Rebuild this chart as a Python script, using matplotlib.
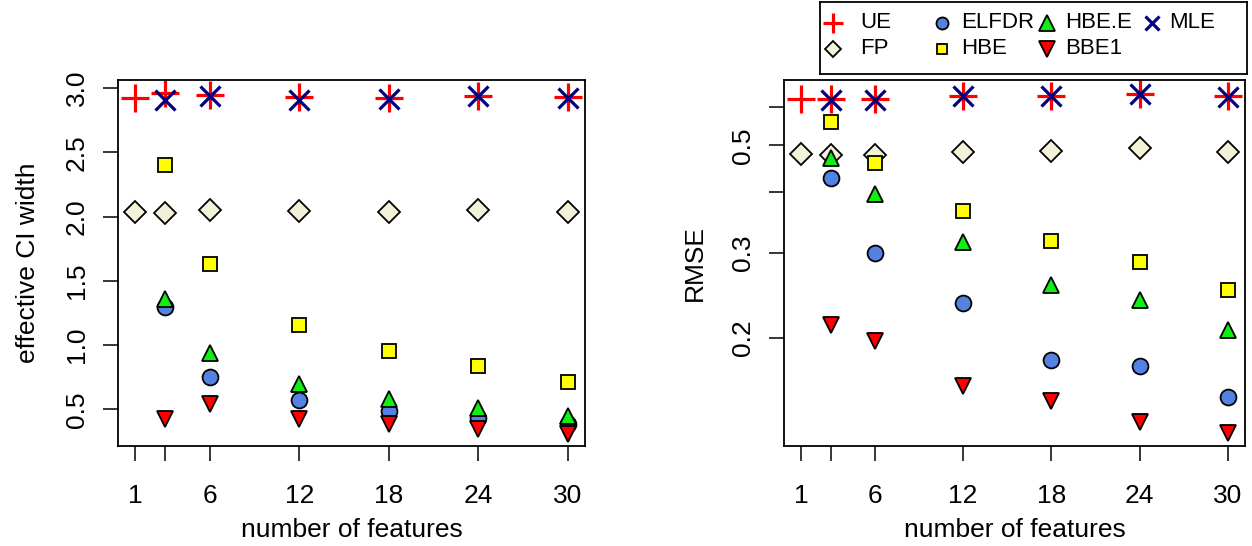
import matplotlib
matplotlib.use("Agg")
import matplotlib.pyplot as plt

plt.rcParams["font.family"] = ["Liberation Sans", "DejaVu Sans"]

# number of features
features = [1, 3, 6, 12, 18, 24, 30]
features_sub = [3, 6, 12, 18, 24, 30]

# effective CI width (left panel)
ue_ci = [2.92, 2.96, 2.947, 2.93, 2.92, 2.943, 2.93]
fp_ci = [2.036, 2.025, 2.051, 2.044, 2.038, 2.049, 2.036]
elfdr_ci = [1.293, 0.752, 0.575, 0.484, 0.435, 0.388]
hbe_ci = [2.40, 1.63, 1.155, 0.955, 0.835, 0.716]
hbee_ci = [1.36, 0.94, 0.70, 0.578, 0.513, 0.45]
bbe1_ci = [0.427, 0.544, 0.427, 0.383, 0.35, 0.31]
mle_ci = [2.908, 2.94, 2.91, 2.914, 2.94, 2.927]

# RMSE (right panel, log scale)
ue_rmse = [0.625, 0.625, 0.625, 0.633, 0.633, 0.640, 0.633]
fp_rmse = [0.479, 0.477, 0.477, 0.485, 0.487, 0.493, 0.485]
elfdr_rmse = [0.428, 0.300, 0.236, 0.180, 0.175, 0.151]
hbe_rmse = [0.560, 0.460, 0.366, 0.317, 0.287, 0.251]
hbee_rmse = [0.472, 0.396, 0.316, 0.257, 0.239, 0.207]
bbe1_rmse = [0.212, 0.197, 0.159, 0.148, 0.134, 0.127]
mle_rmse = [0.622, 0.622, 0.633, 0.633, 0.640, 0.630]

x_ticks = [1, 3, 6, 12, 18, 24, 30]
x_ticklabels = ["1", "", "6", "12", "18", "24", "30"]
ci_ticks = [0.5, 1.0, 1.5, 2.0, 2.5, 3.0]
rmse_ticks = [0.2, 0.3, 0.4, 0.5, 0.6]
rmse_ticklabels = ["0.2", "0.3", "", "0.5", ""]

labels = ["UE", "FP", "ELFDR", "HBE", "HBE.E", "BBE1", "MLE"]

# marker styles in plot order
styles = {
    "UE": dict(marker="+", color="#FF0000", ms=19.5, mew=2.3),
    "FP": dict(marker="D", mfc="#F2F2D8", mec="black", ms=11.3, mew=1.3),
    "ELFDR": dict(marker="o", mfc="#5482E2", mec="black", ms=11.4, mew=1.3),
    "HBE": dict(marker="s", mfc="#FFFF00", mec="black", ms=9.8, mew=1.3),
    "HBE.E": dict(marker="^", mfc="#11EE11", mec="black", ms=11.8, mew=1.3),
    "BBE1": dict(marker="v", mfc="#FF0000", mec="black", ms=11.8, mew=1.3),
    "MLE": dict(marker="x", color="#000080", ms=14, mew=2.3),
}

FS = 19

W, H = 1252, 546
fig = plt.figure(figsize=(W / 100, H / 100), dpi=100)


def px_axes(x0, y0, x1, y1):
    return fig.add_axes([x0 / W, 1 - y1 / H, (x1 - x0) / W, (y1 - y0) / H])


ax1 = px_axes(118, 80, 585, 446)
ax2 = px_axes(784, 80, 1245, 446)

left_data = [(features, ue_ci), (features, fp_ci), (features_sub, elfdr_ci),
             (features_sub, hbe_ci), (features_sub, hbee_ci),
             (features_sub, bbe1_ci), (features_sub, mle_ci)]
right_data = [(features, ue_rmse), (features, fp_rmse), (features_sub, elfdr_rmse),
              (features_sub, hbe_rmse), (features_sub, hbee_rmse),
              (features_sub, bbe1_rmse), (features_sub, mle_rmse)]

for ax, data in [(ax1, left_data), (ax2, right_data)]:
    for name, (xs, ys) in zip(labels, data):
        ax.plot(xs, ys, linestyle="none", **styles[name])

for ax in (ax1, ax2):
    ax.set_xlim(-0.16, 31.16)
    ax.set_xticks(x_ticks)
    ax.set_xticklabels(x_ticklabels)
    ax.tick_params(axis="both", direction="out", length=11, width=1.1,
                   labelsize=FS, color="black")
    ax.tick_params(axis="x", pad=16.5)
    ax.tick_params(axis="y", pad=10)
    for sp in ax.spines.values():
        sp.set_linewidth(1.3)
    ax.set_xlabel("number of features", fontsize=FS, va="center")
    ax.xaxis.set_label_coords(0.5, -0.23)

ax1.set_ylim(0.214, 3.064)
ax1.set_yticks(ci_ticks)
ax1.set_yticklabels([f"{t:.1f}" for t in ci_ticks])
ax1.set_ylabel("effective CI width", fontsize=FS, va="center")
ax1.yaxis.set_label_coords(-0.193, 0.5)

ax2.set_yscale("log")
ax2.set_ylim(0.1193, 0.683)
ax2.set_yticks(rmse_ticks)
ax2.set_yticklabels(rmse_ticklabels)
ax2.minorticks_off()
ax2.set_ylabel("RMSE", fontsize=FS, va="center")
ax2.yaxis.set_label_coords(-0.193, 0.5)

for ax in (ax1, ax2):
    for t in ax.get_yticklabels():
        t.set_rotation(90)
        t.set_va("center")
        t.set_ha("right")

# legend box drawn in its own axes, entries filled column by column
lax = px_axes(820, 2, 1247, 74)
lax.set_xlim(0, 427)
lax.set_ylim(72, 0)
lax.set_xticks([])
lax.set_yticks([])
for sp in lax.spines.values():
    sp.set_linewidth(1.3)

col_x = [13, 122, 227, 332]
txt_x = [40, 141, 245, 349]
row_y = [21, 47]
for i, name in enumerate(labels):
    c, r = i // 2, i % 2
    st = dict(styles[name])
    if name in ("HBE.E", "BBE1"):
        st["ms"] = st["ms"] * 0.95
    else:
        st["ms"] = st["ms"] * 0.76
    lax.plot([col_x[c]], [row_y[r]], linestyle="none", clip_on=False, **st)
    lax.text(txt_x[c], row_y[r], name, fontsize=16, va="center", ha="left")

fig.savefig("out.png", dpi=100)
